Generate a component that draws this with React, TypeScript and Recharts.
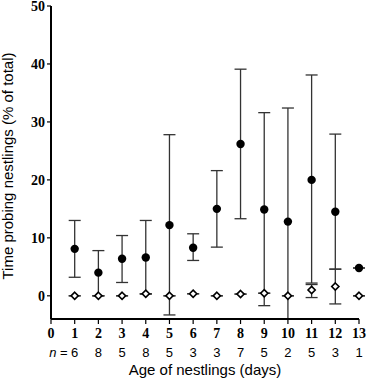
import React from "react";
import { ComposedChart, Scatter, XAxis, YAxis, ErrorBar } from "recharts";

const AGES = [1, 2, 3, 4, 5, 6, 7, 8, 9, 10, 11, 12, 13];
const N_VALUES = [6, 8, 5, 8, 5, 3, 3, 7, 5, 2, 5, 3, 1];

// filled circles: mean with lower / upper whisker ends
const MEANS = [8.1, 4.0, 6.4, 6.6, 12.2, 8.3, 15.0, 26.2, 14.9, 12.8, 20.0, 14.5, 4.8];
const LOWS = [3.2, 0.0, 2.3, 0.3, -3.3, 6.1, 8.4, 13.3, -1.7, -4.0, 2.2, 4.6, 4.8];
const HIGHS = [13.0, 7.8, 10.4, 13.0, 27.8, 10.7, 21.6, 39.1, 31.6, 32.4, 38.1, 27.9, 4.8];

// open diamonds
const OPEN_MEANS = [0, 0, 0, 0.35, 0, 0.35, 0, 0.3, 0.45, 0, 1.0, 1.6, 0];
const OPEN_LOWS = [0, 0, 0, 0.35, 0, 0.35, 0, 0.3, 0.45, 0, -0.3, -1.4, 0];
const OPEN_HIGHS = [0, 0, 0, 0.35, 0, 0.35, 0, 0.3, 0.45, 0, 1.95, 4.6, 0];

const X_TICKS = [0, 1, 2, 3, 4, 5, 6, 7, 8, 9, 10, 11, 12, 13];
const Y_TICKS = [0, 10, 20, 30, 40, 50];

const filled = AGES.map((x, i) => ({
    x,
    y: MEANS[i],
    err: [MEANS[i] - LOWS[i], HIGHS[i] - MEANS[i]],
}));

const open = AGES.map((x, i) => ({
    x,
    y: OPEN_MEANS[i],
    err: [OPEN_MEANS[i] - OPEN_LOWS[i], OPEN_HIGHS[i] - OPEN_MEANS[i]],
}));

const SERIF = "'Liberation Serif', 'Times New Roman', serif";
const SANS = "'Liberation Sans', Arial, sans-serif";

function Dot({ cx, cy }: any) {
    return <circle cx={cx} cy={cy} r={4.2} fill="#000" />;
}

function Diamond({ cx, cy }: any) {
    const r = 3.6;
    return (
        <polygon
            points={`${cx},${cy - r} ${cx + r},${cy} ${cx},${cy + r} ${cx - r},${cy}`}
            fill="#fff"
            stroke="#000"
            strokeWidth={1.6}
        />
    );
}

function XTick({ x, y, payload }: any) {
    const v = payload.value;
    const idx = AGES.indexOf(v);
    return (
        <g>
            <text x={x} y={y + 12} textAnchor="middle" fontFamily={SERIF} fontWeight="bold" fontSize={14} fill="#000">
                {v}
            </text>
            {idx >= 0 && (
                <text x={x} y={y + 31} textAnchor="middle" fontFamily={SANS} fontSize={13} fill="#000">
                    {N_VALUES[idx]}
                </text>
            )}
            {v === 1 && (
                <text x={x - 7} y={y + 31} textAnchor="end" fontFamily={SANS} fontSize={13} fill="#000">
                    <tspan fontStyle="italic">n</tspan> =
                </text>
            )}
        </g>
    );
}

function YTick({ x, y, payload }: any) {
    return (
        <text x={x} y={y + 5} textAnchor="end" fontFamily={SERIF} fontWeight="bold" fontSize={14} fill="#000">
            {payload.value}
        </text>
    );
}

function XTitle() {
    return (
        <text x={205} y={375} textAnchor="middle" fontFamily={SANS} fontSize={15} fill="#000">
            Age of nestlings (days)
        </text>
    );
}

function YTitle() {
    return (
        <text
            x={13}
            y={166}
            transform="rotate(-90 13 166)"
            textAnchor="middle"
            fontFamily={SANS}
            fontSize={15}
            fill="#000"
        >
            Time probing nestlings (% of total)
        </text>
    );
}

export default function App() {
    return (
        <div style={{ position: "absolute", left: 0, top: 0, background: "#fff" }}>
            <ComposedChart width={369} height={380} margin={{ top: 6, right: 10, bottom: 0, left: 0 }}>
                <XAxis
                    type="number"
                    dataKey="x"
                    domain={[0, 13]}
                    ticks={X_TICKS}
                    interval={0}
                    height={61}
                    stroke="#000"
                    strokeWidth={2}
                    tickSize={5}
                    tickLine={{ stroke: "#000", strokeWidth: 1.2 }}
                    tick={<XTick />}
                    label={{ content: () => <XTitle /> }}
                />
                <YAxis
                    type="number"
                    domain={[-4, 50]}
                    ticks={Y_TICKS}
                    interval={0}
                    width={51}
                    stroke="#000"
                    strokeWidth={2}
                    tickSize={4}
                    tickLine={{ stroke: "#000", strokeWidth: 1.2 }}
                    tick={<YTick />}
                    allowDataOverflow
                    label={{ content: () => <YTitle /> }}
                />
                <Scatter data={filled} dataKey="y" shape={<Dot />} isAnimationActive={false}>
                    <ErrorBar dataKey="err" direction="y" width={6} stroke="#333" strokeWidth={1.3} />
                </Scatter>
                <Scatter data={open} dataKey="y" shape={<Diamond />} isAnimationActive={false}>
                    <ErrorBar dataKey="err" direction="y" width={6} stroke="#333" strokeWidth={1.3} />
                </Scatter>
            </ComposedChart>
        </div>
    );
}
